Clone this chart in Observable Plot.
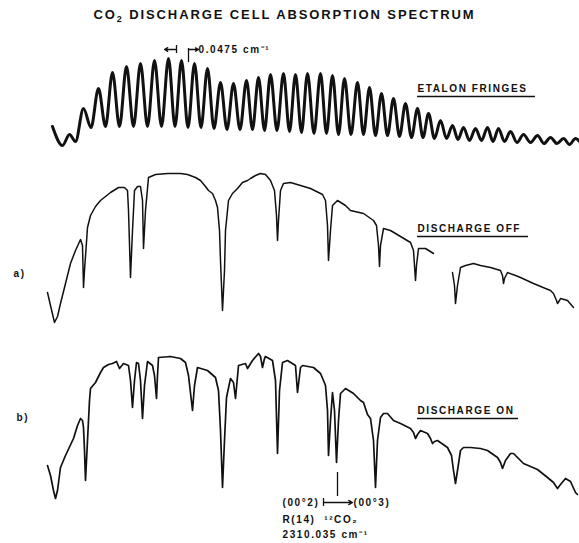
<!DOCTYPE html>
<html>
<head>
<meta charset="utf-8">
<script src="https://cdn.jsdelivr.net/npm/d3@7"></script>
<script src="https://cdn.jsdelivr.net/npm/@observablehq/plot@0.6"></script>
<style>
  html, body { margin: 0; padding: 0; background: #fff; }
  #title { height: 30px; line-height: 30px; font-family: "Liberation Sans", Arial, sans-serif; font-weight: bold; font-size: 13px; letter-spacing: 1.9px; color: #111; text-align: center; padding-right: 10px; width: 569px; white-space: nowrap; }
  #title sub { font-size: 9px; vertical-align: -3px; line-height: 0; }
  #chart svg text { letter-spacing: 1.6px; }
</style>
</head>
<body>
<div id="title">CO<sub>2</sub> DISCHARGE CELL ABSORPTION SPECTRUM</div>
<div id="chart"></div>
<script>
// ---- Etalon fringes (scan position, signal) ----
const etalonStartX = [52, 62, 69, 75];
const etalonStartY = [417, 398, 409, 402];
const fringePeakX = [83,98,112,126,140,154,168,181,194,207,220,233,246,258,270,283,295,307,320,332,344,357,369,381,393,405,417,428,440,452,463,475,487,498,510,523,537,550,563,575];
const fringePeakY = [435,455,471,477,480,483,485,483,480,475,461,460,463,466,469,470,469,470,470,468,465,461,456,450,445,440,435,430,423,418,416,415,416,415,412,409,408,406,405,405];
const fringeTroughY = [416,417,417,417,417,417,417,416,416,415,414,414,414,413,413,412,411,410,410,409,409,409,408,408,407,406,406,405,405,404,403,403,402,402,401,401,400,400,399];
const etalonEnd = [579, 402];

// ---- a) Discharge off ----
const offX = [47,50,54,57,60,65,70,75,80,82,83,84,87,90,95,100,105,110,118,124,127,128,130,132,134,137,140,142,143,145,148,155,167,180,187,195,200,205,208,212,215,217,219,220,222,224,225,227,228,232,237,242,247,250,255,260,265,270,274,276,277,278,280,283,290,300,310,318,322,325,327,328,330,332,337,345,350,363,373,376,378,379,380,383,390,400,410,413,415,416,418,425,433,
  440,
  452,454,455,457,460,465,473,480,490,500,502,503,504,507,515,520,533,545,550,553,556,557,559,560,567,573];
const offY = [251,238,221,227,240,260,280,293,304,298,256,273,316,328,337,343,347,351,356,356,353,333,266,313,353,357,357,343,295,333,366,369,370,370,369,366,363,357,353,350,343,336,313,283,233,273,313,333,343,350,355,361,363,365,368,370,369,363,353,328,303,323,353,360,361,358,355,351,349,343,318,283,313,338,343,338,333,330,323,318,298,277,298,315,313,307,301,293,263,278,295,295,290,
  NaN,
  271,258,240,258,276,278,280,278,276,273,268,260,265,271,268,266,260,255,253,250,243,240,243,245,243,236];

// ---- b) Discharge on ----
const onX = [47,50,53,55,57,60,65,73,77,80,82,83,84,85,86,87,89,90,95,100,103,108,112,116,119,123,128,130,132,134,136,138,140,142,144,147,152,154,156,157,158,170,180,185,188,192,194,197,207,215,218,220,222,224,226,230,233,235,238,245,247,252,258,260,262,264,265,272,275,277,279,282,287,295,297,300,302,313,320,323,325,327,328,330,332,334,336,338,340,345,353,360,363,367,370,373,375,377,380,383,387,393,400,410,413,415,417,420,427,430,432,434,437,447,451,453,455,457,460,463,470,480,487,497,500,502,505,510,513,523,537,547,553,557,560,565,570,575,577];
const onY = [78,68,53,45,53,76,88,105,118,125,123,116,93,63,83,103,143,155,161,171,176,179,180,182,175,180,178,163,136,163,181,180,163,125,158,182,178,168,145,168,186,187,185,181,168,133,158,176,173,166,153,113,56,103,146,165,161,145,178,180,175,183,190,187,176,185,187,183,163,90,153,181,183,178,151,176,178,176,170,163,158,133,88,123,151,133,81,123,150,155,150,143,141,129,125,103,56,103,126,130,130,123,120,115,111,105,109,113,110,105,100,102,103,96,88,73,60,73,93,96,96,95,93,86,81,75,83,90,90,80,74,66,61,55,59,65,62,51,49];

// ---- labels ----
const labelText = ["ETALON FRINGES", "DISCHARGE OFF", "DISCHARGE ON", "a)", "b)", "0.0475 cm\u207B\u00B9", "(00\u00B02)", "(00\u00B03)", "R(14)  \u00B9\u00B2CO\u2082", "2310.035 cm\u207B\u00B9"];
const labelX = [417, 417, 417, 13, 16, 198, 282, 353, 282, 282];
const labelY = [455, 315, 133, 270, 126, 494, 41, 41, 24, 9];
const underlined = ["ETALON FRINGES", "DISCHARGE OFF", "DISCHARGE ON"];
const underlineEnd = [535, 528, 518];

// spacing markers (scan units / signal units)
const markerArrows = [
  {x1: 175, y1: 494, x2: 164, y2: 494},
  {x1: 188, y1: 494, x2: 198, y2: 494},
  {x1: 323, y1: 41, x2: 352, y2: 41}
];
const markerTicks = [
  {x: 176, y1: 490, y2: 498},
  {x: 188, y1: 481, y2: 495},
  {x: 323, y1: 37, y2: 45},
  {x: 337, y1: 47, y2: 71}
];

// build tables
const etalon = [];
etalonStartX.forEach((x, i) => etalon.push({x, y: etalonStartY[i]}));
fringePeakX.forEach((x, i) => {
  etalon.push({x, y: fringePeakY[i]});
  if (i < fringeTroughY.length) etalon.push({x: (x + fringePeakX[i + 1]) / 2, y: fringeTroughY[i]});
});
etalon.push({x: etalonEnd[0], y: etalonEnd[1]});
const off = offX.map((x, i) => ({x, y: offY[i]}));
const on = onX.map((x, i) => ({x, y: onY[i]}));
const labels = labelText.map((t, i) => ({t, x: labelX[i], y: labelY[i]}));
const underlines = underlined.map((t, i) => {
  const l = labels.find(d => d.t === t);
  return {x1: l.x, x2: underlineEnd[i], y: l.y};
});

const ink = "#111";
const chart = Plot.plot({
  width: 579,
  height: 513,
  margin: 0,
  x: {domain: [0, 579], axis: null},
  y: {domain: [0, 513], axis: null},
  style: {background: "#fff", color: ink},
  marks: [
    Plot.line(etalon, {x: "x", y: "y", stroke: ink, strokeWidth: 3, curve: "monotone-x"}),
    Plot.line(off, {x: "x", y: "y", stroke: ink, strokeWidth: 1.5, curve: "linear"}),
    Plot.line(on, {x: "x", y: "y", stroke: ink, strokeWidth: 1.7, curve: "linear"}),
    Plot.text(labels, {x: "x", y: "y", text: "t", textAnchor: "start", fill: ink, fontSize: 10, fontWeight: "bold", fontFamily: "Liberation Sans, Arial, sans-serif"}),
    Plot.ruleY(underlines, {y: "y", x1: "x1", x2: "x2", dy: 8, stroke: ink, strokeWidth: 1.3}),
    Plot.arrow(markerArrows, {x1: "x1", y1: "y1", x2: "x2", y2: "y2", stroke: ink, strokeWidth: 1.3, headLength: 5}),
    Plot.ruleX(markerTicks, {x: "x", y1: "y1", y2: "y2", stroke: ink, strokeWidth: 1.3})
  ]
});
document.getElementById("chart").append(chart);
</script>
</body>
</html>
